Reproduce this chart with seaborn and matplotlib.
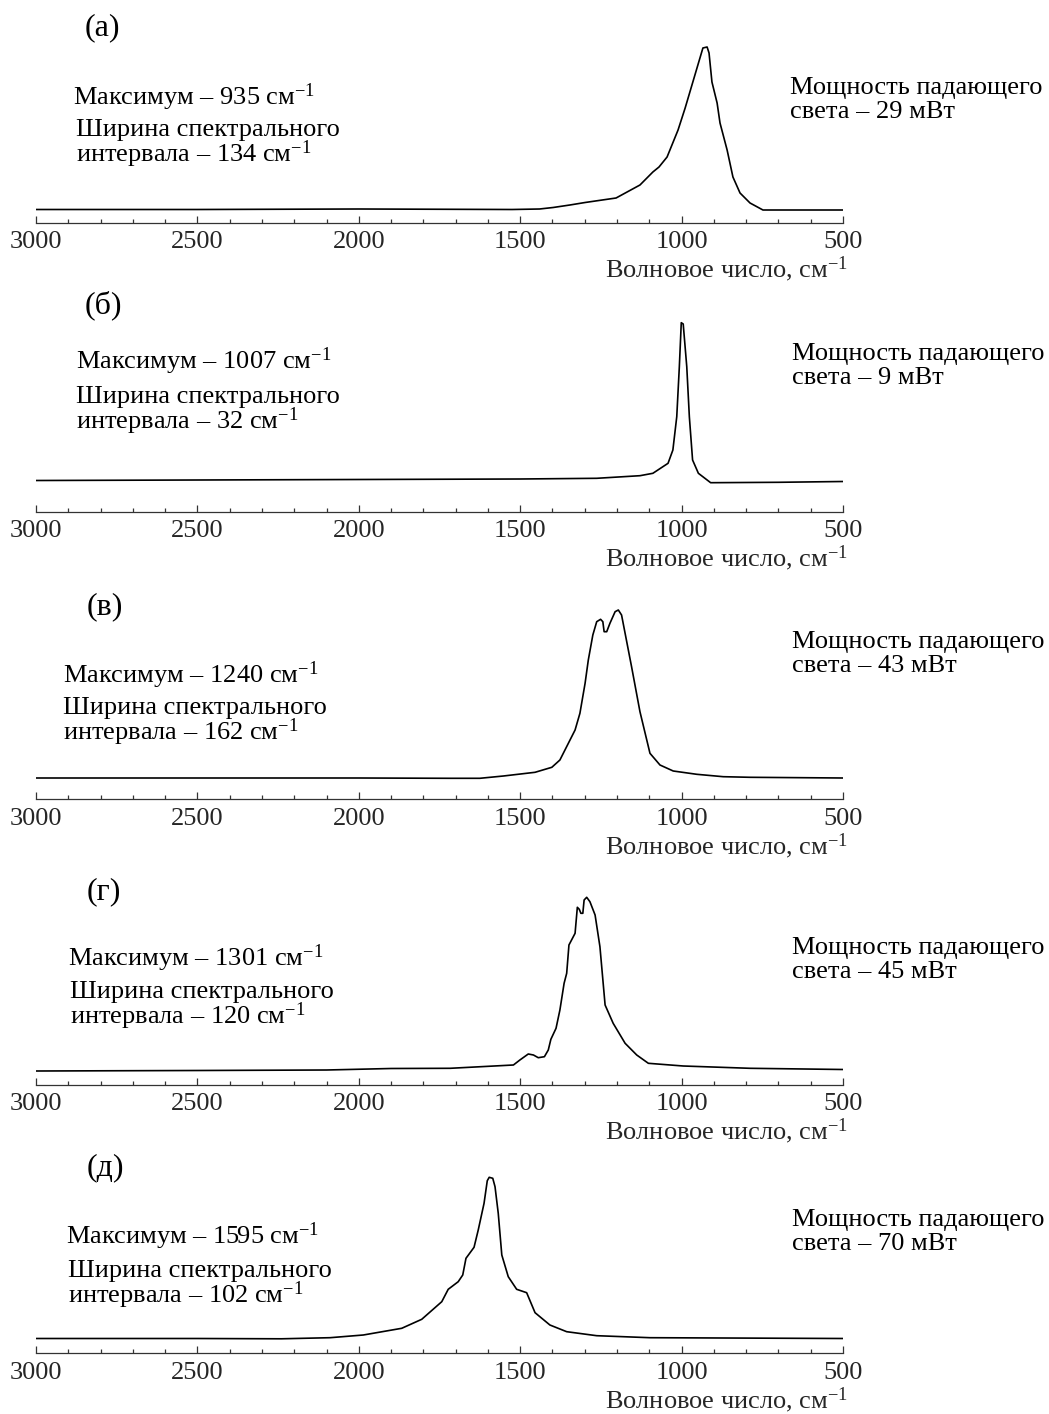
import numpy as np
import pandas as pd
import seaborn as sns
from matplotlib import pyplot as plt
from matplotlib.ticker import MultipleLocator

wn_a = [3000, 2500, 2000, 1525, 1440, 1398, 1346, 1299, 1203, 1129, 1089, 1070, 1045, 1011, 989,
        934, 921, 915, 906, 890, 881, 859, 841, 819, 788, 748, 500]
int_a = [0.5, 0.5, 1, 0.5, 1, 2.5, 5, 7.5, 12, 25, 38, 43, 53, 80, 102,
         162, 163, 157, 128, 107, 87, 60, 33, 17, 7, 0, 0]

wn_b = [3000, 2500, 2000, 1500, 1263, 1129, 1089, 1042, 1027, 1015, 1007, 1001, 995, 984, 976,
        966, 948, 910, 700, 500]
int_b = [-1, -0.5, 0, 0.5, 1.2, 3.8, 6.2, 16.2, 29.5, 62.8, 112.8, 156.8, 155.5, 112.8, 62.8,
         19.5, 6.2, -3.2, -2.8, -2]

wn_v = [3000, 2500, 2000, 1717, 1625, 1552, 1454, 1402, 1377, 1330, 1315, 1299, 1289, 1275, 1263,
        1251, 1244, 1240, 1232, 1222, 1206, 1196, 1186, 1155, 1129, 1098, 1067, 1026, 953, 871, 788, 500]
int_v = [0, 0, 0, -0.3, -0.3, 2, 5.7, 10.7, 18, 48, 64.7, 94.7, 118, 143, 156.3,
         158.7, 156.3, 146.3, 146.3, 154.7, 166.3, 168, 163, 111.3, 66.3, 24.7, 13, 7, 3.7, 1.3, 0.7, 0]

wn_g = [3000, 2500, 2100, 1900, 1717, 1521, 1501, 1475, 1459, 1444, 1425, 1413, 1405, 1389, 1377,
        1364, 1356, 1349, 1330, 1323, 1317, 1312, 1306, 1302, 1294, 1284, 1268, 1253, 1237, 1212,
        1175, 1139, 1103, 995, 788, 500]
int_g = [-2, -1.5, -1, 0.5, 0.7, 4, 9, 15, 14, 11.3, 12.3, 19, 29.7, 40.7, 59,
         85.7, 95.7, 124, 135.7, 161.7, 159.7, 155.7, 155.7, 169, 171.7, 167.3, 154, 122.3, 64, 45.7,
         25.7, 14, 5.7, 3, 0.7, -0.5]

wn_d = [3000, 2500, 2240, 2089, 1986, 1867, 1805, 1743, 1723, 1692, 1678, 1668, 1643, 1630, 1612,
        1602, 1596, 1585, 1578, 1568, 1557, 1537, 1511, 1480, 1454, 1408, 1356, 1263, 1098, 500]
int_d = [0, 0, -0.3, 0.8, 3.5, 10.2, 19.2, 36.8, 49.2, 56.8, 63.5, 80.2, 91.2, 108.5, 135.2,
         157.8, 161.2, 160.2, 151.8, 125.2, 83.5, 61.8, 49.2, 45.8, 25.8, 13.5, 6.8, 2.8, 0.8, 0]

labels = ['(а)', '(б)', '(в)', '(г)', '(д)']
maxima = [935, 1007, 1240, 1301, 1595]
widths = [134, 32, 162, 120, 102]
powers = [29, 9, 43, 45, 70]

spectra = [(wn_a, int_a), (wn_b, int_b), (wn_v, int_v), (wn_g, int_g), (wn_d, int_d)]

W, H = 1049, 1414
# положение панелей в пикселях: ось, базовая линия, подписи
axis_y = [223, 511.7, 799.3, 1085, 1353.3]
base_y = [210, 479.5, 778, 1069, 1338.5]
lab_xy = [(85, 28), (85, 305), (87, 607), (87, 892), (87, 1168)]
max_xy = [(73, 97), (76, 361), (63, 675), (68, 958), (66, 1236)]
wid_xy = [(76, 130), (76, 397), (63, 708), (70, 992), (68, 1271)]
pow_xy = [(790, 88), (792, 354), (792, 642), (792, 948), (792, 1220)]

sns.set_theme(style='white')
plt.rcParams['font.family'] = ['Liberation Serif', 'DejaVu Serif']
plt.rcParams['mathtext.fontset'] = 'custom'
plt.rcParams['mathtext.rm'] = 'Liberation Serif'
plt.rcParams['mathtext.it'] = 'Liberation Serif:italic'
FS = 19
LS = 24  # межстрочный интервал, px

fig = plt.figure(figsize=(W / 100, H / 100), dpi=100)


def ftext(x, y, s, size=FS):
    fig.text(x / W, 1 - y / H, s, fontsize=size, va='center', ha='left', color='black')


left, right = 36, 843
top_units = 180
for i, (wn, inten) in enumerate(spectra):
    off = axis_y[i] - base_y[i]
    h_px = off + top_units
    ax = fig.add_axes([left / W, 1 - axis_y[i] / H, (right - left) / W, h_px / H])
    df = pd.DataFrame({'wn': wn, 'I': inten})
    sns.lineplot(data=df, x='wn', y='I', ax=ax, color='black', lw=1.2, sort=False)
    ax.set_xlim(3000, 500)
    ax.set_ylim(-off, top_units)
    ax.patch.set_alpha(0)
    for s in ['top', 'left', 'right']:
        ax.spines[s].set_visible(False)
    ax.spines['bottom'].set_color('#333333')
    ax.spines['bottom'].set_linewidth(0.9)
    ax.set_yticks([])
    ax.set_ylabel('')
    ax.xaxis.set_major_locator(MultipleLocator(500))
    ax.xaxis.set_minor_locator(MultipleLocator(100))
    ax.tick_params(axis='x', which='major', direction='in', length=5, width=0.9,
                   color='#333333', labelsize=FS, pad=6, bottom=True)
    ax.tick_params(axis='x', which='minor', direction='in', length=3, width=0.9,
                   color='#333333', bottom=True)
    ax.set_xlabel('Волновое число, см$^{-1}$', fontsize=FS, loc='right', labelpad=1)
    ax.xaxis.label.set_x(1.006)

    ftext(*lab_xy[i], labels[i], size=23)
    ftext(*max_xy[i], f'Максимум – {maxima[i]} см$^{{-1}}$')
    ftext(*wid_xy[i], 'Ширина спектрального')
    ftext(wid_xy[i][0], wid_xy[i][1] + LS, f'интервала – {widths[i]} см$^{{-1}}$')
    ftext(*pow_xy[i], 'Мощность падающего')
    ftext(pow_xy[i][0], pow_xy[i][1] + LS, f'света – {powers[i]} мВт')

fig.savefig('out.png', dpi=100)
